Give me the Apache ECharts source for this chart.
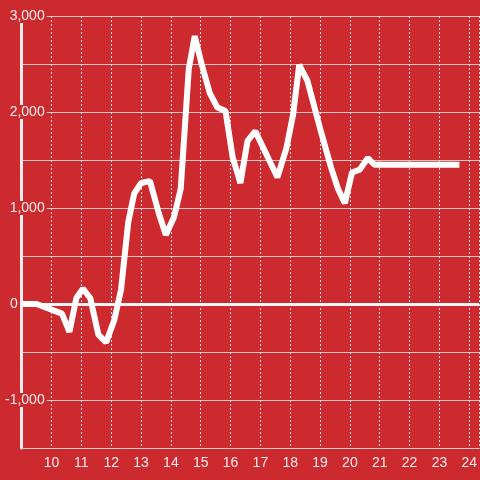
<!DOCTYPE html>
<html>
<head>
<meta charset="utf-8">
<script src="https://cdn.jsdelivr.net/npm/echarts@6/dist/echarts.min.js"></script>
<style>
  html, body { margin: 0; padding: 0; background: #cc2a2e; }
  #chart { width: 480px; height: 480px; }
</style>
</head>
<body>
<div id="chart"></div>
<script>
// hour of day (x) and value (y)
const hours = [
  9.0, 9.5, 10.35, 10.6, 10.83, 11.05, 11.3, 11.57, 11.83, 12.1,
  12.33, 12.57, 12.77, 13.0, 13.3, 13.6, 13.83, 14.1, 14.33, 14.6,
  14.8, 15.03, 15.3, 15.55, 15.83, 16.07, 16.33, 16.57, 16.83, 17.2,
  17.57, 17.87, 18.1, 18.3, 18.57, 19.0, 19.37, 19.6, 19.83, 20.07,
  20.33, 20.6, 20.83, 23.67
]
const values = [
  0, 0, -100, -290, 60, 160, 60, -320, -400, -170,
  150, 850, 1150, 1260, 1280, 940, 720, 900, 1200, 2450,
  2790, 2500, 2200, 2050, 2010, 1530, 1260, 1700, 1800, 1560,
  1320, 1620, 1980, 2490, 2330, 1830, 1420, 1200, 1050, 1370,
  1400, 1520, 1450, 1450
]
const xTicks = [10, 11, 12, 13, 14, 15, 16, 17, 18, 19, 20, 21, 22, 23, 24]
const yLabelValues = [-1000, 0, 1000, 2000, 3000]

const bg = '#cc2a2e'
const chart = echarts.init(document.getElementById('chart'))

const fmt = (v) => {
  const s = Math.abs(v).toString().replace(/\B(?=(\d{3})+(?!\d))/g, ',')
  return (v < 0 ? '-' : '') + s
}

chart.setOption({
  backgroundColor: bg,
  animation: false,
  grid: { left: 20, right: 0, top: 16, bottom: 32 },
  xAxis: {
    type: 'value',
    min: 9,
    max: 9 + 460 / 30,
    interval: 1,
    axisLine: { show: true, onZero: false, lineStyle: { color: '#cccccc', width: 1 } },
    axisTick: { show: false },
    axisLabel: {
      color: '#eeeeee',
      fontSize: 14,
      fontFamily: 'Liberation Sans, Arial, sans-serif',
      margin: 8,
      showMinLabel: false,
      showMaxLabel: false,
      formatter: (v) => (xTicks.includes(v) ? String(v) : '')
    },
    splitLine: { show: true, lineStyle: { color: '#dddddd', width: 1, type: [2, 2] } }
  },
  yAxis: {
    type: 'value',
    min: -1500,
    max: 3000,
    interval: 500,
    axisLine: { show: true, lineStyle: { color: '#eeeeee', width: 3 } },
    axisTick: { show: false },
    splitLine: { show: true, lineStyle: { color: '#c8c8c8', width: 1 } },
    axisLabel: {
      margin: -25,
      fontSize: 14,
      fontFamily: 'Liberation Sans, Arial, sans-serif',
      color: '#eeeeee',
      formatter: (v) => {
        if (!yLabelValues.includes(v)) return ''
        if (v === 0) return '{z|0}'
        return '{b|' + fmt(v) + '}'
      },
      rich: {
        b: {
          color: '#eeeeee',
          fontSize: 14,
          fontFamily: 'Liberation Sans, Arial, sans-serif',
          backgroundColor: bg,
          lineHeight: 16,
          padding: [0, 2, 0, 2]
        },
        z: {
          color: '#eeeeee',
          fontSize: 14,
          fontFamily: 'Liberation Sans, Arial, sans-serif',
          padding: [0, 29, 0, 0]
        }
      }
    }
  },
  series: [
    {
      type: 'line',
      data: hours.map((h, i) => [h, values[i]]),
      showSymbol: false,
      symbol: 'none',
      lineStyle: { color: '#ffffff', width: 6 },
      z: 5,
      markLine: {
        silent: true,
        symbol: 'none',
        label: { show: false },
        lineStyle: { color: '#f5f5f5', width: 3, type: 'solid' },
        data: [{ yAxis: 0 }]
      }
    }
  ]
})
</script>
</body>
</html>
